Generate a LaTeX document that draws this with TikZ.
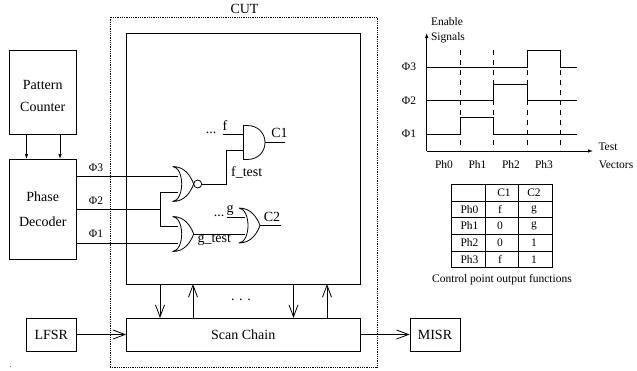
\documentclass[tikz,border=0pt]{standalone}
\usepackage{fontspec}
\setmainfont{Liberation Serif}
\usetikzlibrary{arrows.meta}
\tikzset{
  x=1pt,y=-1pt,
  wire/.style={line width=0.8pt,line join=miter},
  boxnode/.style={draw,line width=0.8pt,inner sep=0pt,align=center,font=\fontsize{14}{22}\selectfont},
  lab/.style={inner sep=0pt,font=\fontsize{14}{16}\selectfont},
  smalllab/.style={inner sep=0pt,font=\fontsize{11.5}{13}\selectfont},
  bigv/.style={-{Straight Barb[length=12pt,width=9pt,line width=0.8pt]}},
  smallv/.style={-{Latex[length=5pt,width=3.5pt]}},
  gate/.style={line width=0.8pt,line join=round},
}
\begin{document}
\begin{tikzpicture}
\useasboundingbox (0,0) rectangle (637,370);
\fill[white] (0,0) rectangle (637,370);
% blocks
\node[boxnode,minimum width=66.5pt,minimum height=83.5pt] (pc) at (42.75,92.25) {\rule{0pt}{17pt}Pattern\\Counter};
\node[boxnode,minimum width=66.5pt,minimum height=100pt] (pd) at (42.75,209) {Phase\\[3pt]Decoder};
\node[draw,densely dotted,line width=0.8pt,minimum width=267pt,minimum height=350pt,inner sep=0pt] (cut) at (243.5,192) {};
\node[draw,line width=0.8pt,minimum width=233.5pt,minimum height=250.5pt,inner sep=0pt] (core) at (243.25,158.75) {};
\node[boxnode,minimum width=233.5pt,minimum height=33pt] (sc) at (243.25,334.5) {Scan Chain};
\node[boxnode,minimum width=49.5pt,minimum height=33pt] (lfsr) at (51.25,334.5) {LFSR};
\node[boxnode,minimum width=50pt,minimum height=33pt] (misr) at (435,334.5) {MISR};
\node[lab] (cutlab) at (244.5,9) {CUT};
\node[lab] (dots) at (241,300) {. . .};
\node[inner sep=0pt,font=\fontsize{8}{8}\selectfont] (spot) at (10.5,367) {.};
% arrows between blocks
\draw[wire,smallv] (26.5,134) -- (26.5,159);
\draw[wire,smallv] (60,134) -- (60,159);
\draw[wire,bigv] (lfsr.east) -- (sc.west);
\draw[wire,bigv] (sc.east) -- (misr.west);
\draw[wire,bigv] (160,284) -- (160,318);
\draw[wire,bigv] (193,318) -- (193,284);
\draw[wire,bigv] (293.5,284) -- (293.5,318);
\draw[wire,bigv] (327,318) -- (327,284);
% gates
\newcommand{\orgate}[3]{% x top-tip, y centre, name
  \coordinate (#3top) at (#1,#2-17.5);
  \coordinate (#3bot) at (#1,#2+17.5);
  \coordinate (#3out) at (#1+21,#2);
  \draw[gate] (#3top) .. controls (#1+12,#2-17.5) and (#1+18,#2-8) .. (#3out)
     .. controls (#1+18,#2+8) and (#1+12,#2+17.5) .. (#3bot)
     .. controls (#1+6,#2+17) and (#1+9,#2+8) .. (#1+9,#2)
     .. controls (#1+9,#2-8) and (#1+6,#2-17) .. (#3top);
}
\orgate{172.7}{184}{nora}
\orgate{172.7}{234}{norb}
\orgate{239}{225.5}{orc}
\node[draw,circle,line width=0.8pt,minimum size=8pt,inner sep=0pt] (bub) at (197.7,184) {};
\draw[gate] (243.5,125.5) -- (247,125.5) .. controls (259,125.5) and (265,134) .. (265,142.5)
   .. controls (265,151) and (259,159.5) .. (247,159.5) -- (243.5,159.5) -- cycle;
\coordinate (andout) at (265,142.5);
\coordinate (p3) at (178,176);
\coordinate (p1) at (178,243);
\coordinate (j) at (160,209);
\draw[wire] (pd.east |- p3) -- (p3);
\draw[wire] (pd.east |- p1) -- (p1);
\draw[wire] (pd.east |- j) -- (j);
\draw[wire] (178,192.5) -- (160,192.5) -- (160,226) -- (178,226);
\draw[wire] (bub.east) -- (226.7,184) -- (226.7,150.7) -- (243.5,150.7);
\draw[wire] (222.7,134) -- (243.5,134);
\draw[wire] (andout) -- (285,142.5);
\draw[wire] (norbout) -- (245,234);
\draw[wire] (227,217) -- (245,217);
\draw[wire] (orcout) -- (281,225.5);
% gate labels
\node[lab] at (279.5,133) {C1};
\node[lab] at (272,217) {C2};
\node[lab] at (225,125.5) {f};
\node[lab] at (230,210) {g};
\node[lab] at (211,133) {...};
\node[lab] at (219,216) {...};
\node[lab] at (246.7,172) {f\_test};
\node[lab] at (214.3,240) {g\_test};
\node[smalllab] at (96,168) {Φ3};
\node[smalllab] at (96,201) {Φ2};
\node[smalllab] at (96,234) {Φ1};
% timing
\coordinate (o) at (426.7,151);
\draw[wire,smallv] (o) -- (426.7,33);
\draw[wire,smallv] (o) -- (593,151);
\foreach \x in {460,493.7,527,560} \draw[wire,dash pattern=on 5pt off 5pt] (\x,50) -- (\x,150);
\draw[wire] (426.7,67) -- (527,67) -- (527,50.5) -- (560,50.5) -- (560,67) -- (577,67);
\draw[wire] (426.7,100.5) -- (493.7,100.5) -- (493.7,84) -- (527,84) -- (527,100.5) -- (577,100.5);
\draw[wire] (426.7,134) -- (460,134) -- (460,117.5) -- (493.7,117.5) -- (493.7,134) -- (577,134);
\node[smalllab] at (409,67) {Φ3};
\node[smalllab] at (409,100.5) {Φ2};
\node[smalllab] at (409,134) {Φ1};
\node[smalllab] at (447,22) {Enable};
\node[smalllab] at (448,38) {Signals};
\node[smalllab] at (608,147) {Test};
\node[smalllab] at (616,164.5) {Vectors};
\node[smalllab] at (444,164.5) {Ph0};
\node[smalllab] at (477.5,164.5) {Ph1};
\node[smalllab] at (511,164.5) {Ph2};
\node[smalllab] at (544,164.5) {Ph3};
% table
\draw[wire] (451.7,184) rectangle (552.3,267.7);
\foreach \x in {485.3,518.7} \draw[wire] (\x,184) -- (\x,267.7);
\foreach \y in {201,217.7,234.3,251} \draw[wire] (451.7,\y) -- (552.3,\y);
\node[smalllab] at (504,193) {C1};
\node[smalllab] at (534,193) {C2};
\foreach \y/\a/\b/\c in {209.5/Ph0/f/g,226/Ph1/0/g,243/Ph2/0/1,259.5/Ph3/f/1}{
  \node[smalllab] at (469.5,\y) {\a};
  \node[smalllab] at (500,\y) {\b};
  \node[smalllab] at (534,\y) {\c};
}
\node[smalllab] at (502,280) {Control point output functions};
\end{tikzpicture}
\end{document}
